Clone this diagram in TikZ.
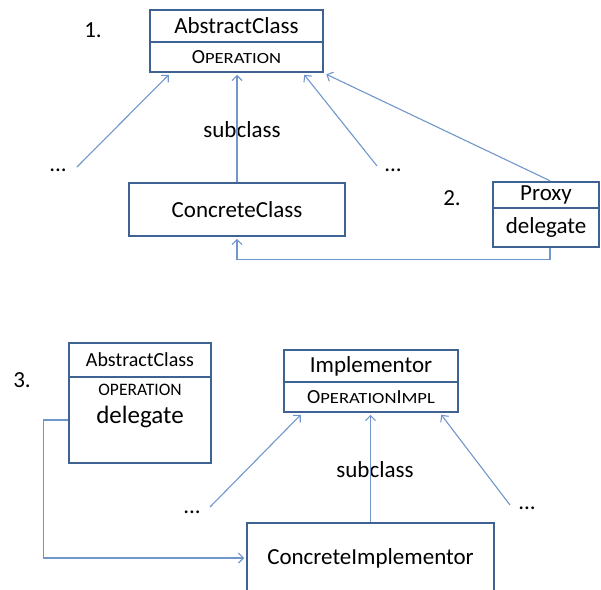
\documentclass[tikz,border=0pt]{standalone}
\usepackage{fontspec}
\usepackage{graphicx}
\setmainfont{Carlito}
\usetikzlibrary{arrows.meta,calc}
\definecolor{boxc}{RGB}{62,98,146}
\definecolor{arrc}{RGB}{112,150,204}
\newcommand\fakesc[1]{{\fontsize{15.5}{15.5}\selectfont\scalebox{1.2}[1]{#1}}}
\begin{document}
\begin{tikzpicture}[x=1pt,y=-1pt,
  cls/.style={draw=boxc, line width=2.5pt, inner sep=0pt, font=\fontsize{23}{23}\selectfont},
  conn/.style={draw=arrc, line width=1.1pt},
  inh/.style={conn, -{Straight Barb[length=5pt,width=10pt]}},
  lbl/.style={inner sep=0pt, font=\fontsize{23}{23}\selectfont}]
\useasboundingbox (0,0) rectangle (601,589);

% ---- part 1 ----
\node[lbl] (n1) at (93,30) {1.};
\node[cls, minimum width=173pt, minimum height=32pt] (ac1t) at (236.5,26) {AbstractClass};
\node[cls, minimum width=173pt, minimum height=30pt] (ac1b) at (236.5,57) {{\fontsize{20}{20}\selectfont O}\fakesc{PERATION}};
\node[cls, minimum width=216pt, minimum height=53pt] (cc) at (237,209.5) {ConcreteClass};
\node[lbl] (n2) at (452,198) {2.};
\node[cls, minimum width=106pt, minimum height=26pt] (pxt) at (546,195) {Proxy};
\node[cls, minimum width=106pt, minimum height=39pt] (pxb) at (546,227.5) {delegate};
\node[lbl] (d1) at (58,170) {...};
\node[lbl] (d2) at (393,170) {...};
\node[lbl] (sub1) at (242,130) {subclass};

\coordinate (t1) at (77,167);
\coordinate (t3) at (377,166);
\draw[inh] (t1) -- ($(ac1b.south west)+(20,1.5)$);
\draw[inh] (cc.north) -- ($(cc.north |- ac1b.south)+(0,1.5)$);
\draw[inh] (t3) -- ($(ac1b.south east)+(-20,1.5)$);
\draw[inh] ([xshift=4pt]pxt.north) -- ($(ac1b.south east)+(2,1)$);
\draw[inh] ([xshift=4pt]pxb.south) -- ++(0,11) -| ($(cc.south)+(0,1.5)$);

% ---- part 3 ----
\node[lbl] (n3) at (22,380) {3.};
\node[cls, minimum width=142pt, minimum height=34pt, font=\fontsize{20}{20}\selectfont] (ac3t) at (140,360) {AbstractClass};
\node[cls, minimum width=142pt, minimum height=86pt] (ac3b) at (140,420) {};
\node[lbl, font=\fontsize{17.5}{17.5}\selectfont] (op3) at (140,390) {OPERATION};
\node[lbl, font=\fontsize{25}{25}\selectfont] (dl3) at (140,417) {delegate};

\node[cls, minimum width=174pt, minimum height=32pt] (imt) at (371,366) {Implementor};
\node[cls, minimum width=174pt, minimum height=30pt] (imb) at (371,397) {{\fontsize{20}{20}\selectfont O}\fakesc{PERATION}{\fontsize{20}{20}\selectfont I}\fakesc{MPL}};
\node[cls, minimum width=247pt, minimum height=70pt] (ci) at (370.5,558) {ConcreteImplementor};
\node[lbl] (d3) at (192,512) {...};
\node[lbl] (d4) at (527,508) {...};
\node[lbl] (sub2) at (375,470) {subclass};

\coordinate (t5) at (210,507);
\coordinate (t6) at (510,505);
\draw[inh] (t5) -- ($(imb.south west)+(18,1.5)$);
\draw[inh] (ci.north) -- ($(ci.north |- imb.south)+(0,1.5)$);
\draw[inh] (t6) -- ($(imb.south east)+(-18,1.5)$);
\draw[inh] (ac3b.west) -- ++(-24,0) |- ($(ci.west)+(-1.5,0)$);
\end{tikzpicture}
\end{document}
